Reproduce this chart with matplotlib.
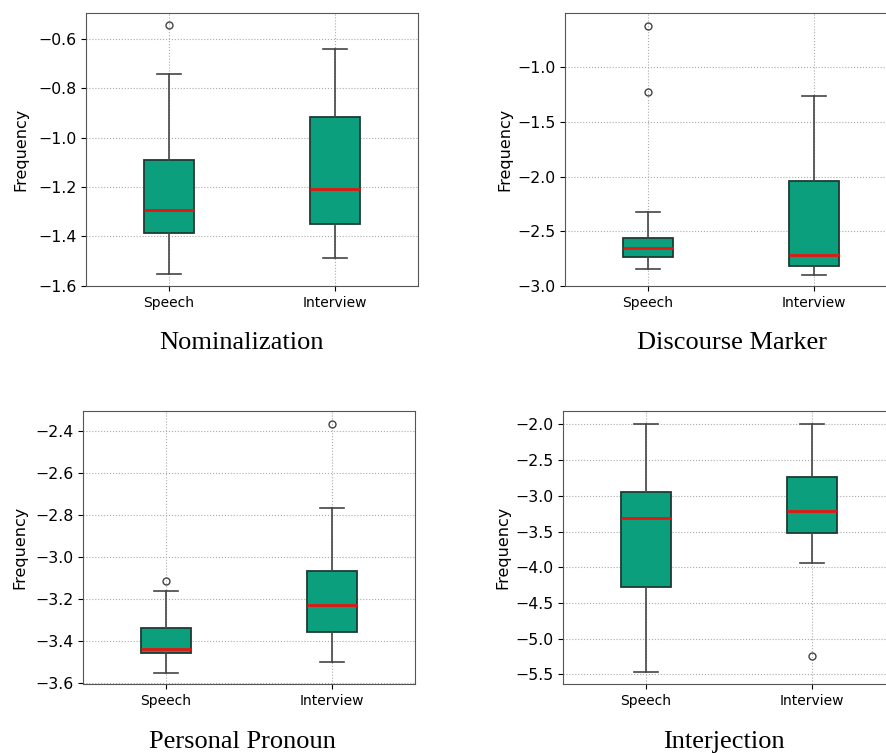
import matplotlib
matplotlib.use("Agg")
from matplotlib import pyplot as plt

groups = ['Speech', 'Interview']

titles = ['Nominalization', 'Discourse Marker', 'Personal Pronoun', 'Interjection']

# per panel: [Speech, Interview]
whislo = [[-1.553, -1.488], [-2.839, -2.897], [-3.552, -3.500], [-5.472, -3.941]]
q1 = [[-1.387, -1.348], [-2.733, -2.815], [-3.460, -3.360], [-4.276, -3.527]]
med = [[-1.295, -1.208], [-2.656, -2.715], [-3.438, -3.230], [-3.308, -3.215]]
q3 = [[-1.091, -0.917], [-2.559, -2.042], [-3.338, -3.068], [-2.949, -2.731]]
whishi = [[-0.741, -0.643], [-2.325, -1.261], [-3.162, -2.765], [-1.990, -2.000]]
fliers = [[[-0.546], []], [[-0.626, -1.228], []], [[-3.117], [-2.365]], [[], [-5.235]]]

ylims = [(-1.601, -0.497), (-3.0, -0.508), (-3.606, -2.305), (-5.634, -1.814)]
yticks = [[-1.6, -1.4, -1.2, -1.0, -0.8, -0.6],
          [-3.0, -2.5, -2.0, -1.5, -1.0],
          [-3.6, -3.4, -3.2, -3.0, -2.8, -2.6, -2.4],
          [-5.5, -5.0, -4.5, -4.0, -3.5, -3.0, -2.5, -2.0]]

# axes rectangles (figure fractions)
rects = [[0.0971, 0.620, 0.3747, 0.3625],
         [0.6377, 0.620, 0.3747, 0.3625],
         [0.0937, 0.0916, 0.3747, 0.3625],
         [0.6354, 0.0916, 0.3747, 0.3625]]
label_x = [-0.175, -0.16, -0.169, -0.157]
title_pos = [(0.273, 0.5445), (0.826, 0.5445), (0.274, 0.0146), (0.817, 0.0146)]

fig = plt.figure(figsize=(8.86, 7.53), dpi=100)

for i in range(4):
    ax = fig.add_axes(rects[i])
    stats = []
    for j in range(2):
        stats.append({'whislo': whislo[i][j], 'q1': q1[i][j], 'med': med[i][j],
                      'q3': q3[i][j], 'whishi': whishi[i][j], 'fliers': fliers[i][j]})
    ax.bxp(stats, positions=[1, 2], widths=0.3, patch_artist=True,
           boxprops=dict(facecolor='#0c9f7d', edgecolor='#1e3b34', linewidth=1.3),
           medianprops=dict(color='#e8140f', linewidth=2),
           whiskerprops=dict(color='#444444', linewidth=1.2),
           capprops=dict(color='#444444', linewidth=1.2),
           flierprops=dict(marker='o', markerfacecolor='none', markeredgecolor='#444444',
                           markersize=5, markeredgewidth=1.0))
    ax.set_xlim(0.5, 2.5)
    ax.set_ylim(*ylims[i])
    ax.set_yticks(yticks[i])
    ax.set_xticks([1, 2])
    ax.set_xticklabels(groups, fontsize=10)
    ax.tick_params(axis='y', labelsize=11.3)
    ax.grid(True, linestyle=':', color='#aaaaaa', linewidth=0.8)
    ax.set_axisbelow(True)
    for s in ax.spines.values():
        s.set_color('#555555')
    ax.set_ylabel('Frequency', fontsize=11.5)
    ax.yaxis.set_label_coords(label_x[i], 0.5)
    fig.text(title_pos[i][0], title_pos[i][1], titles[i], fontsize=19,
             family='Liberation Serif', ha='center', va='center')

fig.savefig('out.png', dpi=100)
